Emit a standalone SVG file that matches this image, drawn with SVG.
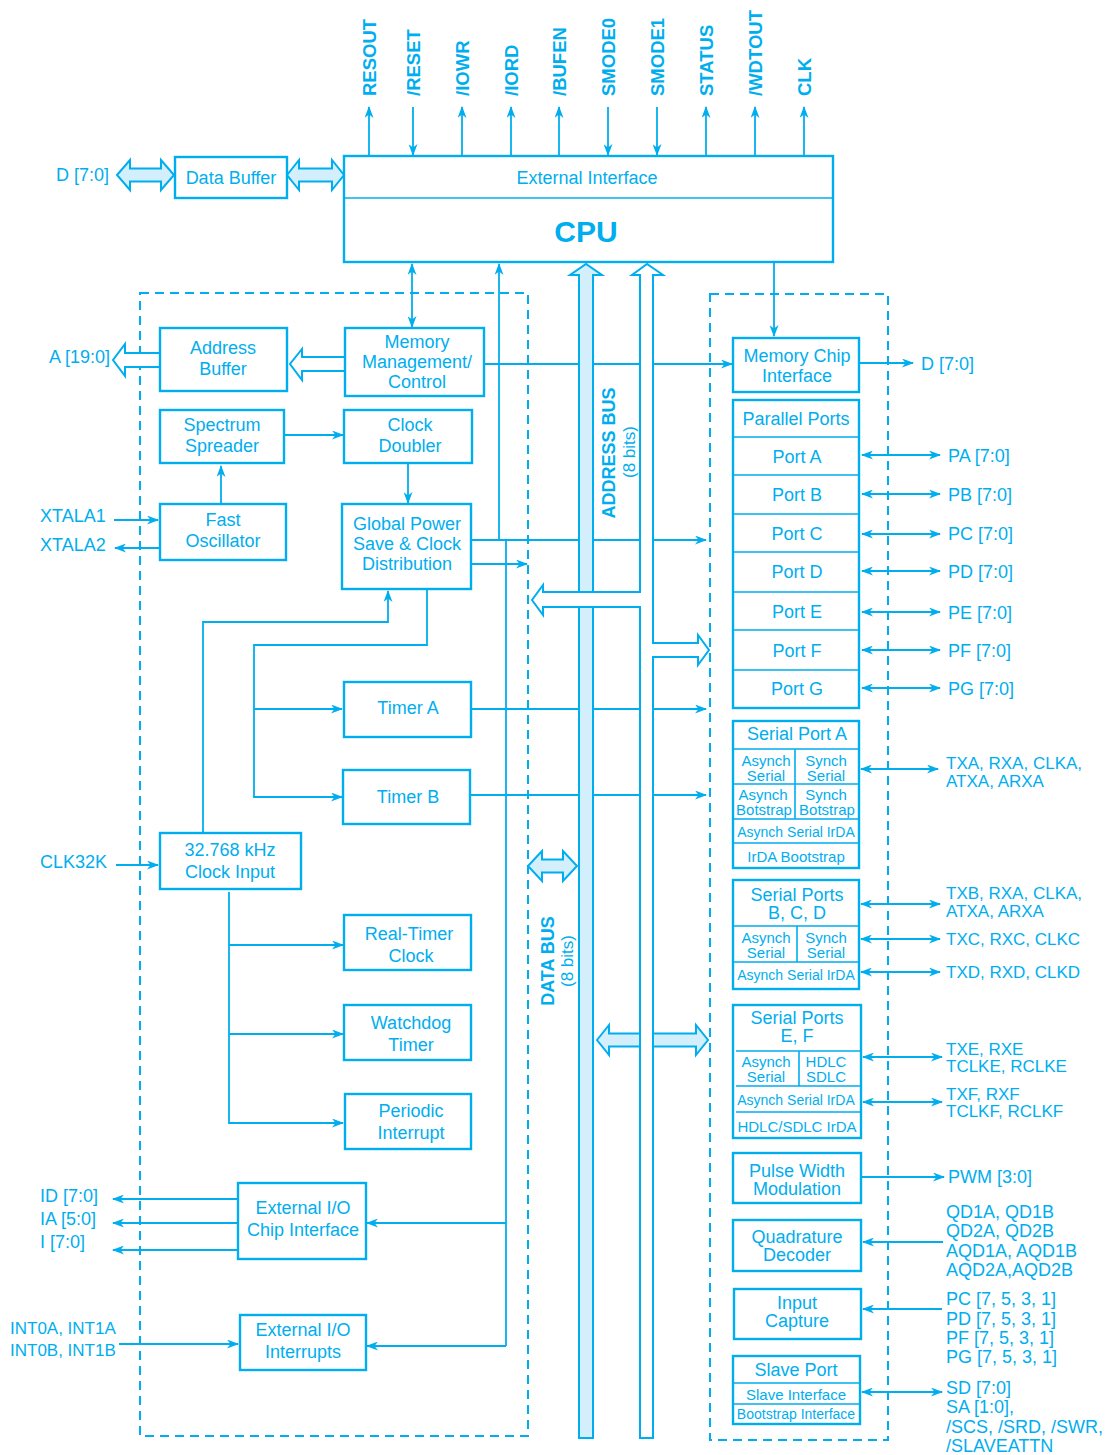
<svg xmlns="http://www.w3.org/2000/svg" width="1112" height="1455" viewBox="0 0 1112 1455">
<defs>
<style>
.bx{fill:#fff;stroke:#00aeef;stroke-width:2.4}
.in{fill:none;stroke:#00aeef;stroke-width:1.6}
.ln{fill:none;stroke:#00aeef;stroke-width:1.8}
.ar{marker-end:url(#ah)}
.ar2{marker-start:url(#ah);marker-end:url(#ah)}
.dash{fill:none;stroke:#00aeef;stroke-width:2;stroke-dasharray:9 6}
.fat{fill:#d2effb;stroke:#00aeef;stroke-width:2}
.hol{fill:#fff;stroke:#00aeef;stroke-width:2}
text{font-family:"Liberation Sans",Arial,Helvetica,sans-serif;fill:#00aeef;dominant-baseline:central}
.c{text-anchor:middle;font-size:18px}
.r{text-anchor:end;font-size:18px}
.l{text-anchor:start;font-size:17px}
.l8{text-anchor:start;font-size:18px}
.s15{font-size:15px}
.s14{font-size:14px}
.bd{font-weight:bold}
.sig{font-weight:bold;font-size:18.5px;text-anchor:start}
</style>
<marker id="ah" viewBox="0 0 12 9" refX="11" refY="4.5" markerWidth="12" markerHeight="9" orient="auto-start-reverse" markerUnits="userSpaceOnUse">
<path d="M0,0 L12,4.5 L0,9 L3.5,4.5 z" fill="#00aeef"/>
</marker>
</defs>
<rect width="1112" height="1455" fill="#fff"/>

<g id="regions">
<rect class="dash" x="140" y="293" width="388" height="1143"/>
<rect class="dash" x="710" y="294" width="178" height="1146"/>
</g>

<g id="connectors">
<path class="ln ar" d="M369,156V107"/>
<path class="ln ar" d="M413,107V155"/>
<path class="ln ar" d="M462,156V107"/>
<path class="ln ar" d="M511,156V107"/>
<path class="ln ar" d="M559,156V107"/>
<path class="ln ar" d="M608,107V155"/>
<path class="ln ar" d="M657,107V155"/>
<path class="ln ar" d="M706,156V107"/>
<path class="ln ar" d="M755,156V107"/>
<path class="ln ar" d="M804,156V107"/>
<path class="ln ar2" d="M412,264V327"/>
<path class="ln ar" d="M774,262V336"/>
<path class="ln ar" d="M499,540V264"/>
<path class="ln ar" d="M484,364H732"/>
<path class="ln ar" d="M859,363H913"/>
<path class="ln ar" d="M284,435H343"/>
<path class="ln ar" d="M221,505V466"/>
<path class="ln ar" d="M408,464V503"/>
<path class="ln ar" d="M114,520H158"/>
<path class="ln ar" d="M159,548H115"/>
<path class="ln ar" d="M471,540H706"/>
<path class="ln" d="M506,540V1346"/>
<path class="ln ar" d="M471,564H527"/>
<path class="ln ar" d="M427,590V645H254V797H342"/>
<path class="ln ar" d="M254,709H342"/>
<path class="ln ar" d="M203,835V622H388V591"/>
<path class="ln ar" d="M116,865H158"/>
<path class="ln ar" d="M229,892V1123H343"/>
<path class="ln ar" d="M229,945H343"/>
<path class="ln ar" d="M229,1034H343"/>
<path class="ln ar" d="M471,709H706"/>
<path class="ln ar" d="M470,795H706"/>
<path class="ln ar" d="M237,1199H113"/>
<path class="ln ar" d="M237,1223H113"/>
<path class="ln ar" d="M237,1250H113"/>
<path class="ln ar" d="M506,1223H367"/>
<path class="ln ar" d="M119,1344H238"/>
<path class="ln ar" d="M506,1346H367"/>
<path class="ln ar2" d="M862,455H940"/>
<path class="ln ar2" d="M862,494H940"/>
<path class="ln ar2" d="M862,534H940"/>
<path class="ln ar2" d="M862,571H940"/>
<path class="ln ar2" d="M862,612H940"/>
<path class="ln ar2" d="M862,650H940"/>
<path class="ln ar2" d="M862,688H940"/>
<path class="ln ar2" d="M861,769H938"/>
<path class="ln ar2" d="M861,904H940"/>
<path class="ln ar2" d="M861,939H940"/>
<path class="ln ar2" d="M861,972H940"/>
<path class="ln ar2" d="M863,1057H942"/>
<path class="ln ar2" d="M863,1102H942"/>
<path class="ln ar" d="M862,1177H944"/>
<path class="ln ar" d="M943,1242H863"/>
<path class="ln ar" d="M942,1309H863"/>
<path class="ln ar2" d="M862,1392H942"/>
<polygon class="fat" points="117,175 130,160 130,168.5 161,168.5 161,160 174,175 161,190 161,181.5 130,181.5 130,190"/>
<polygon class="fat" points="287,175 299,160 299,168.5 332,168.5 332,160 344,175 332,190 332,181.5 299,181.5 299,190"/>
<path class="hol" d="M345,357H302V349L290,364L302,380V371H345"/>
<path class="hol" d="M160,353H125V344L113,360L125,376V367H160"/>
<polygon class="fat" points="528,866 542,851 542,859.5 563,859.5 563,851 577,866 563,881 563,872.5 542,872.5 542,881"/>
<polygon class="fat" points="597,1040 609,1025 609,1033.5 696,1033.5 696,1025 708,1040 696,1055 696,1046.5 609,1046.5 609,1055"/>
</g>

<g id="data-bus">
<path class="fat" d="M579,1438V275H570L586,264L602,275H593V1438Z"/>
<text class="c bd" transform="translate(548,961) rotate(-90)">DATA BUS</text>
<text class="c" style="font-size:17px" transform="translate(567,961) rotate(-90)">(8 bits)</text>
</g>

<g id="address-bus">
<path class="hol" d="M640,1438V607H543V615L532,600L543,585V592H640V275H632L647,264L663,275H653V643H698V635L709,650L698,665V657H653V1438Z"/>
<text class="c bd" transform="translate(608.5,453) rotate(-90)">ADDRESS BUS</text>
<text class="c" style="font-size:17px" transform="translate(629,452) rotate(-90)">(8 bits)</text>
</g>

<g id="signal-labels">
<text class="sig" transform="translate(369,96) rotate(-90)">RESOUT</text>
<text class="sig" transform="translate(413,96) rotate(-90)">/RESET</text>
<text class="sig" transform="translate(462,96) rotate(-90)">/IOWR</text>
<text class="sig" transform="translate(511,96) rotate(-90)">/IORD</text>
<text class="sig" transform="translate(559,96) rotate(-90)">/BUFEN</text>
<text class="sig" transform="translate(608,96) rotate(-90)">SMODE0</text>
<text class="sig" transform="translate(657,96) rotate(-90)">SMODE1</text>
<text class="sig" transform="translate(706,96) rotate(-90)">STATUS</text>
<text class="sig" transform="translate(755,96) rotate(-90)">/WDTOUT</text>
<text class="sig" transform="translate(804,96) rotate(-90)">CLK</text>
</g>

<g id="cpu">
<rect class="bx" x="344" y="156" width="489" height="106"/>
<path class="in" d="M344,198H833"/>
<text class="c" x="587" y="178">External Interface</text>
<text class="c bd" x="586" y="231" style="font-size:30px">CPU</text>
</g>

<g id="data-buffer">
<rect class="bx" x="175" y="157" width="112" height="41"/>
<text class="c" x="231" y="178">Data Buffer</text>
</g>

<g id="address-buffer">
<rect class="bx" x="160" y="328" width="127" height="63"/>
<text class="c" x="223" y="348">Address</text>
<text class="c" x="223" y="369">Buffer</text>
</g>

<g id="memory-management">
<rect class="bx" x="345" y="328" width="139" height="68"/>
<text class="c" x="417" y="342">Memory</text>
<text class="c" x="417" y="362">Management/</text>
<text class="c" x="417" y="382">Control</text>
</g>

<g id="spectrum-spreader">
<rect class="bx" x="160" y="410" width="124" height="53"/>
<text class="c" x="222" y="425">Spectrum</text>
<text class="c" x="222" y="446">Spreader</text>
</g>

<g id="clock-doubler">
<rect class="bx" x="344" y="410" width="128" height="53"/>
<text class="c" x="410" y="425">Clock</text>
<text class="c" x="410" y="446">Doubler</text>
</g>

<g id="fast-oscillator">
<rect class="bx" x="160" y="504" width="126" height="56"/>
<text class="c" x="223" y="520">Fast</text>
<text class="c" x="223" y="541">Oscillator</text>
</g>

<g id="global-power">
<rect class="bx" x="342" y="504" width="129" height="85"/>
<text class="c" x="407" y="524">Global Power</text>
<text class="c" x="407" y="544">Save &amp; Clock</text>
<text class="c" x="407" y="564">Distribution</text>
</g>

<g id="timer-a">
<rect class="bx" x="344" y="682" width="127" height="55"/>
<text class="c" x="408" y="708">Timer A</text>
</g>

<g id="timer-b">
<rect class="bx" x="343" y="770" width="127" height="54"/>
<text class="c" x="408" y="797">Timer B</text>
</g>

<g id="clock-input">
<rect class="bx" x="160" y="833" width="141" height="56"/>
<text class="c" x="230" y="850">32.768 kHz</text>
<text class="c" x="230" y="872">Clock Input</text>
</g>

<g id="real-time-clock">
<rect class="bx" x="344" y="915" width="127" height="55"/>
<text class="c" x="409" y="934">Real-Timer</text>
<text class="c" x="411" y="956">Clock</text>
</g>

<g id="watchdog">
<rect class="bx" x="344" y="1005" width="127" height="55"/>
<text class="c" x="411" y="1023">Watchdog</text>
<text class="c" x="411" y="1045">Timer</text>
</g>

<g id="periodic-interrupt">
<rect class="bx" x="345" y="1094" width="126" height="55"/>
<text class="c" x="411" y="1111">Periodic</text>
<text class="c" x="411" y="1133">Interrupt</text>
</g>

<g id="ext-io-chip">
<rect class="bx" x="238" y="1183" width="128" height="76"/>
<text class="c" x="303" y="1208">External I/O</text>
<text class="c" x="303" y="1230">Chip Interface</text>
</g>

<g id="ext-io-interrupts">
<rect class="bx" x="240" y="1315" width="126" height="55"/>
<text class="c" x="303" y="1330">External I/O</text>
<text class="c" x="303" y="1352">Interrupts</text>
</g>

<g id="memory-chip-interface">
<rect class="bx" x="733" y="338" width="126" height="54"/>
<text class="c" x="797" y="356">Memory Chip</text>
<text class="c" x="797" y="376">Interface</text>
</g>

<g id="parallel-ports">
<rect class="bx" x="733" y="400" width="126" height="308"/>
<path class="in" d="M733,437H859M733,475H859M733,514H859M733,552H859M733,592H859M733,630H859M733,670H859"/>
<text class="c" x="796" y="419">Parallel Ports</text>
<text class="c" x="797" y="457">Port A</text>
<text class="c" x="797" y="495">Port B</text>
<text class="c" x="797" y="534">Port C</text>
<text class="c" x="797" y="572">Port D</text>
<text class="c" x="797" y="612">Port E</text>
<text class="c" x="797" y="651">Port F</text>
<text class="c" x="797" y="689">Port G</text>
</g>

<g id="serial-port-a">
<rect class="bx" x="733" y="721" width="126" height="147"/>
<path class="in" d="M733,749H859M733,784H859M733,819H859M733,843H859M795,749V819"/>
<text class="c" x="797" y="734">Serial Port A</text>
<text class="c s15" x="766" y="760">Asynch</text>
<text class="c s15" x="766" y="775">Serial</text>
<text class="c s15" x="826" y="760">Synch</text>
<text class="c s15" x="826" y="775">Serial</text>
<text class="c s15" x="763" y="794">Asynch</text>
<text class="c s15" x="764" y="809">Botstrap</text>
<text class="c s15" x="826" y="794">Synch</text>
<text class="c s15" x="827" y="809">Botstrap</text>
<text class="c s14" x="796" y="832">Asynch Serial IrDA</text>
<text class="c s15" x="796" y="856">IrDA Bootstrap</text>
</g>

<g id="serial-ports-bcd">
<rect class="bx" x="733" y="880" width="126" height="109"/>
<path class="in" d="M733,926H859M733,962H859M797,926V962"/>
<text class="c" x="797" y="895">Serial Ports</text>
<text class="c" x="797" y="913">B, C, D</text>
<text class="c s15" x="766" y="937">Asynch</text>
<text class="c s15" x="766" y="952">Serial</text>
<text class="c s15" x="826" y="937">Synch</text>
<text class="c s15" x="826" y="952">Serial</text>
<text class="c s14" x="796" y="975">Asynch Serial IrDA</text>
</g>

<g id="serial-ports-ef">
<rect class="bx" x="733" y="1005" width="128" height="133"/>
<path class="in" d="M736,1051H861M736,1086H861M736,1112H861M799,1051V1086"/>
<text class="c" x="797" y="1018">Serial Ports</text>
<text class="c" x="797" y="1036">E, F</text>
<text class="c s15" x="766" y="1061">Asynch</text>
<text class="c s15" x="766" y="1076">Serial</text>
<text class="c s15" x="826" y="1061">HDLC</text>
<text class="c s15" x="826" y="1076">SDLC</text>
<text class="c s14" x="796" y="1100">Asynch Serial IrDA</text>
<text class="c s15" x="797" y="1126">HDLC/SDLC IrDA</text>
</g>

<g id="pwm">
<rect class="bx" x="733" y="1153" width="128" height="50"/>
<text class="c" x="797" y="1171">Pulse Width</text>
<text class="c" x="797" y="1189">Modulation</text>
</g>

<g id="quadrature-decoder">
<rect class="bx" x="733" y="1220" width="128" height="51"/>
<text class="c" x="797" y="1237">Quadrature</text>
<text class="c" x="797" y="1255">Decoder</text>
</g>

<g id="input-capture">
<rect class="bx" x="734" y="1289" width="127" height="50"/>
<text class="c" x="797" y="1303">Input</text>
<text class="c" x="797" y="1321">Capture</text>
</g>

<g id="slave-port">
<rect class="bx" x="733" y="1356" width="127" height="68"/>
<path class="in" d="M733,1383H860M733,1404H860"/>
<text class="c" x="796" y="1370">Slave Port</text>
<text class="c s15" x="796" y="1394">Slave Interface</text>
<text class="c s14" x="796" y="1414">Bootstrap Interface</text>
</g>

<g id="external-labels">
<text class="r" x="109" y="175">D [7:0]</text>
<text class="r" x="110" y="357">A [19:0]</text>
<text class="l8" x="40" y="516">XTALA1</text>
<text class="l8" x="40" y="545">XTALA2</text>
<text class="l8" x="40" y="862">CLK32K</text>
<text class="l8" x="40" y="1196">ID [7:0]</text>
<text class="l8" x="40" y="1219">IA [5:0]</text>
<text class="l8" x="40" y="1242">I [7:0]</text>
<text class="l" x="10" y="1328">INT0A, INT1A</text>
<text class="l" x="10" y="1350">INT0B, INT1B</text>
<text class="l8" x="921" y="364">D [7:0]</text>
<text class="l8" x="948" y="456">PA [7:0]</text>
<text class="l8" x="948" y="495">PB [7:0]</text>
<text class="l8" x="948" y="534">PC [7:0]</text>
<text class="l8" x="948" y="572">PD [7:0]</text>
<text class="l8" x="948" y="613">PE [7:0]</text>
<text class="l8" x="948" y="651">PF [7:0]</text>
<text class="l8" x="948" y="689">PG [7:0]</text>
<text class="l" x="946" y="763">TXA, RXA, CLKA,</text>
<text class="l" x="946" y="781">ATXA, ARXA</text>
<text class="l" x="946" y="893">TXB, RXA, CLKA,</text>
<text class="l" x="946" y="911">ATXA, ARXA</text>
<text class="l" x="946" y="939">TXC, RXC, CLKC</text>
<text class="l" x="946" y="972">TXD, RXD, CLKD</text>
<text class="l" x="946" y="1049">TXE, RXE</text>
<text class="l" x="946" y="1066">TCLKE, RCLKE</text>
<text class="l" x="946" y="1094">TXF, RXF</text>
<text class="l" x="946" y="1111">TCLKF, RCLKF</text>
<text class="l8" x="948" y="1177">PWM [3:0]</text>
<text class="l8" x="946" y="1212">QD1A, QD1B</text>
<text class="l8" x="946" y="1231">QD2A, QD2B</text>
<text class="l8" x="946" y="1251">AQD1A, AQD1B</text>
<text class="l8" x="946" y="1270">AQD2A,AQD2B</text>
<text class="l8" x="946" y="1299">PC [7, 5, 3, 1]</text>
<text class="l8" x="946" y="1319">PD [7, 5, 3, 1]</text>
<text class="l8" x="946" y="1338">PF [7, 5, 3, 1]</text>
<text class="l8" x="946" y="1357">PG [7, 5, 3, 1]</text>
<text class="l8" x="946" y="1388">SD [7:0]</text>
<text class="l8" x="946" y="1407">SA [1:0],</text>
<text class="l8" x="946" y="1427">/SCS, /SRD, /SWR,</text>
<text class="l8" x="946" y="1446">/SLAVEATTN</text>
</g>
</svg>
